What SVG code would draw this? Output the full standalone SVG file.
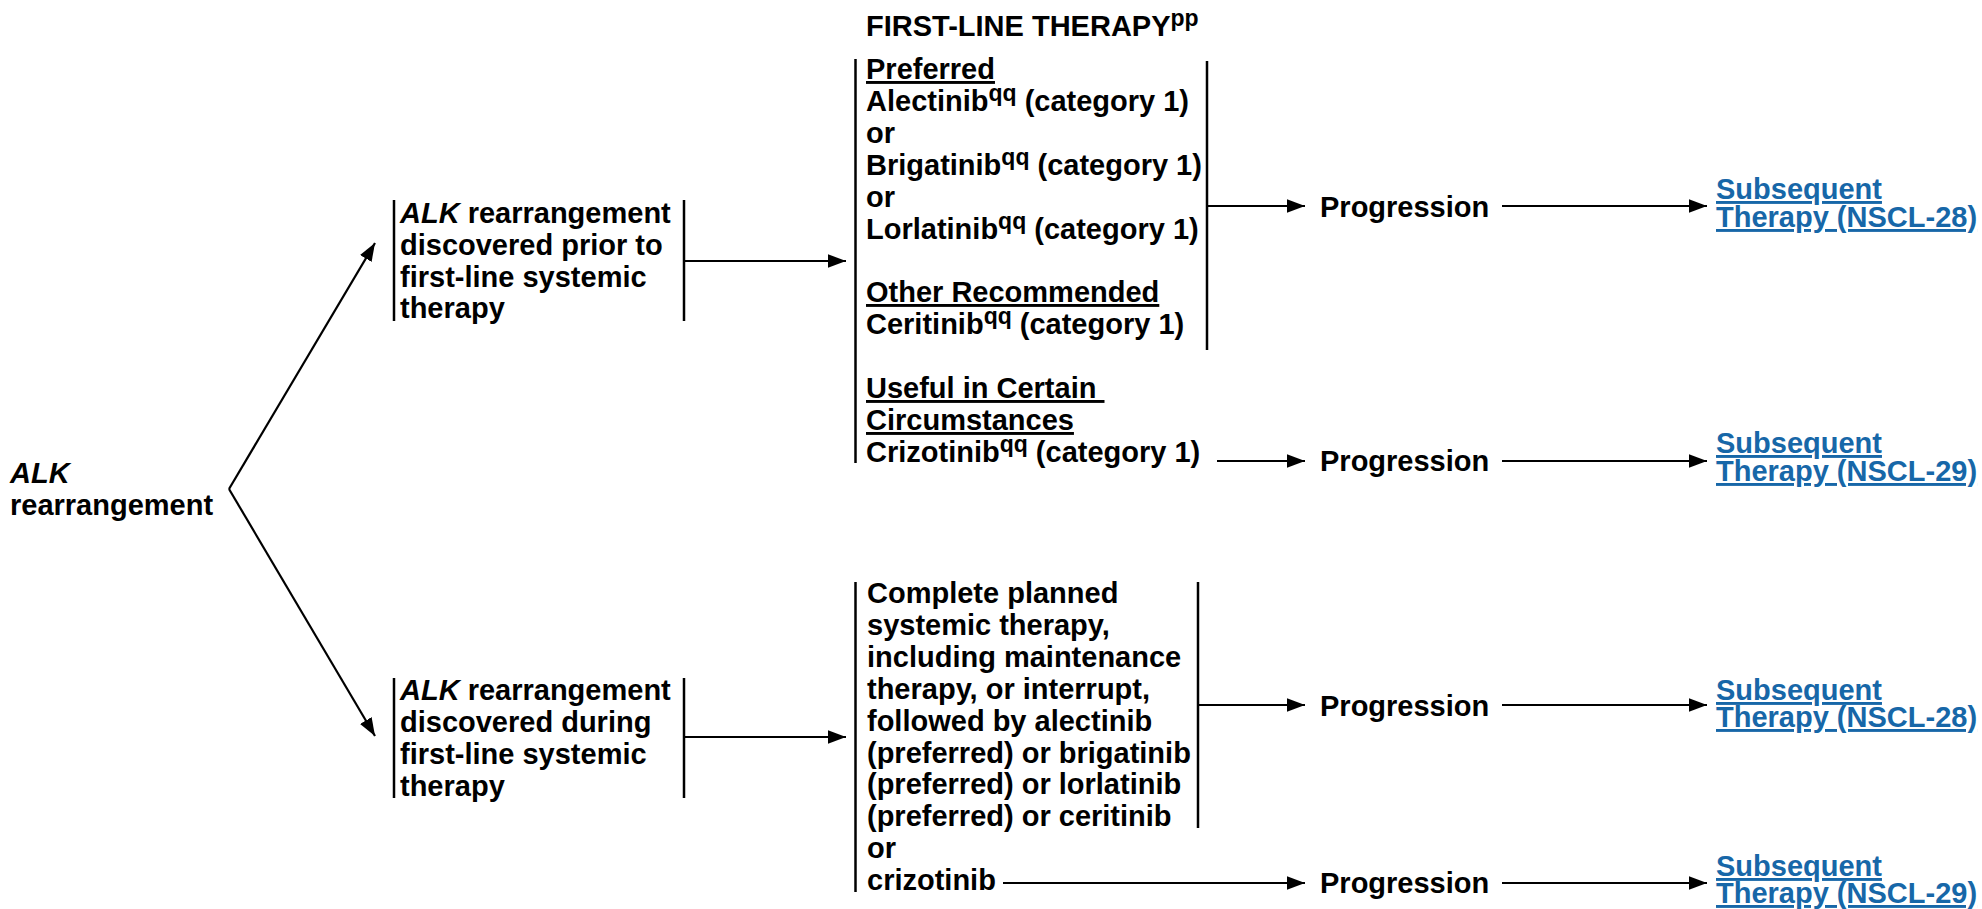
<svg xmlns="http://www.w3.org/2000/svg" width="1982" height="909" viewBox="0 0 1982 909">
<style>
text{font-family:"Liberation Sans",Arial,sans-serif;font-weight:bold;font-size:29px;fill:#000}
.u{text-decoration:underline}
.link{fill:#1767a8;text-decoration:underline}
.sup{font-size:23px}
.bar{stroke:#000;stroke-width:2.5;fill:none}
.conn{stroke:#000;stroke-width:2.2;fill:none;marker-end:url(#ah)}
</style>
<defs>
<marker id="ah" markerUnits="userSpaceOnUse" markerWidth="18" markerHeight="14" refX="18" refY="6.7" orient="auto">
<path d="M0,0 L18,6.7 L0,13.4 z" fill="#000"/>
</marker>
</defs>
<rect width="1982" height="909" fill="#fff"/>

<g id="connectors">
<line class="conn" x1="229" y1="489" x2="375" y2="243"/>
<line class="conn" x1="229" y1="489" x2="375" y2="736"/>
<line class="conn" x1="684" y1="261" x2="846" y2="261"/>
<line class="conn" x1="684" y1="737" x2="846" y2="737"/>
<line class="conn" x1="1207" y1="206" x2="1305" y2="206"/>
<line class="conn" x1="1217" y1="461" x2="1305" y2="461"/>
<line class="conn" x1="1198" y1="705" x2="1305" y2="705"/>
<line class="conn" x1="1003" y1="883" x2="1305" y2="883"/>
<line class="conn" x1="1502" y1="206" x2="1707" y2="206"/>
<line class="conn" x1="1502" y1="461" x2="1707" y2="461"/>
<line class="conn" x1="1502" y1="705" x2="1707" y2="705"/>
<line class="conn" x1="1502" y1="883" x2="1707" y2="883"/>
</g>

<g id="alk">
<text x="10" y="483"><tspan font-style="italic">ALK</tspan></text>
<text x="10" y="515">rearrangement</text>
</g>

<g id="prior">
<line class="bar" x1="394" y1="200" x2="394" y2="321"/>
<line class="bar" x1="684" y1="200" x2="684" y2="321"/>
<text x="400" y="223"><tspan font-style="italic">ALK</tspan> rearrangement</text>
<text x="400" y="255">discovered prior to</text>
<text x="400" y="287">first-line systemic</text>
<text x="400" y="318">therapy</text>
</g>

<g id="during">
<line class="bar" x1="394" y1="678" x2="394" y2="798"/>
<line class="bar" x1="684" y1="678" x2="684" y2="798"/>
<text x="400" y="700"><tspan font-style="italic">ALK</tspan> rearrangement</text>
<text x="400" y="732">discovered during</text>
<text x="400" y="764">first-line systemic</text>
<text x="400" y="796">therapy</text>
</g>

<g id="title">
<text x="866" y="36">FIRST-LINE THERAPY<tspan class="sup" dy="-10">pp</tspan></text>
</g>

<g id="firstline">
<line class="bar" x1="855.5" y1="59" x2="855.5" y2="463"/>
<line class="bar" x1="1207" y1="61" x2="1207" y2="350"/>
<text x="866" y="79" class="u">Preferred</text>
<text x="866" y="111">Alectinib<tspan class="sup" dy="-10">qq</tspan><tspan dy="10"> (category 1)</tspan></text>
<text x="866" y="143">or</text>
<text x="866" y="175">Brigatinib<tspan class="sup" dy="-10">qq</tspan><tspan dy="10"> (category 1)</tspan></text>
<text x="866" y="207">or</text>
<text x="866" y="238.5">Lorlatinib<tspan class="sup" dy="-10">qq</tspan><tspan dy="10"> (category 1)</tspan></text>
<text x="866" y="302" class="u">Other Recommended</text>
<text x="866" y="334">Ceritinib<tspan class="sup" dy="-10">qq</tspan><tspan dy="10"> (category 1)</tspan></text>
<text x="866" y="398" class="u" xml:space="preserve">Useful in Certain&#160;</text>
<text x="866" y="430" class="u">Circumstances</text>
<text x="866" y="462">Crizotinib<tspan class="sup" dy="-10">qq</tspan><tspan dy="10"> (category 1)</tspan></text>
</g>

<g id="complete">
<line class="bar" x1="855.5" y1="582" x2="855.5" y2="892"/>
<line class="bar" x1="1198" y1="582" x2="1198" y2="828"/>
<text x="867" y="603">Complete planned</text>
<text x="867" y="635">systemic therapy,</text>
<text x="867" y="667">including maintenance</text>
<text x="867" y="699">therapy, or interrupt,</text>
<text x="867" y="731">followed by alectinib</text>
<text x="867" y="763">(preferred) or brigatinib</text>
<text x="867" y="794">(preferred) or lorlatinib</text>
<text x="867" y="826">(preferred) or ceritinib</text>
<text x="867" y="858">or</text>
<text x="867" y="890">crizotinib</text>
</g>

<g id="prog1"><text x="1320" y="217">Progression</text></g>
<g id="prog2"><text x="1320" y="471">Progression</text></g>
<g id="prog3"><text x="1320" y="716">Progression</text></g>
<g id="prog4"><text x="1320" y="893">Progression</text></g>

<g id="sub1"><text x="1716" y="199" class="link">Subsequent</text><text x="1716" y="227" class="link">Therapy (NSCL-28)</text></g>
<g id="sub2"><text x="1716" y="453" class="link">Subsequent</text><text x="1716" y="481" class="link">Therapy (NSCL-29)</text></g>
<g id="sub3"><text x="1716" y="700" class="link">Subsequent</text><text x="1716" y="727" class="link">Therapy (NSCL-28)</text></g>
<g id="sub4"><text x="1716" y="876" class="link">Subsequent</text><text x="1716" y="903" class="link">Therapy (NSCL-29)</text></g>
</svg>
